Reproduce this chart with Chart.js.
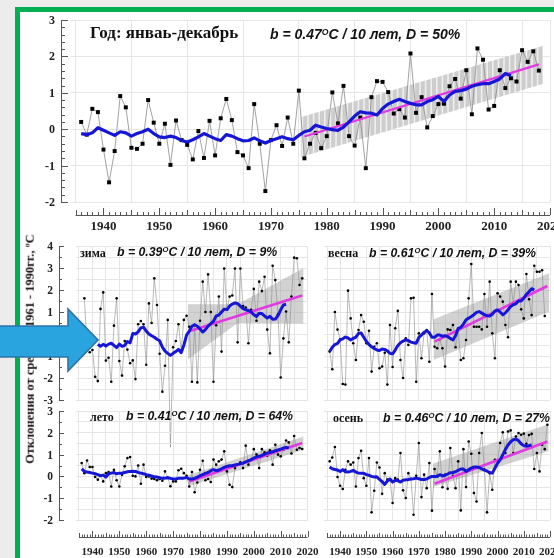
<!DOCTYPE html>
<html><head><meta charset="utf-8">
<script src="https://cdn.jsdelivr.net/npm/chart.js@4.4.0/dist/chart.umd.min.js"></script>
<style>
html,body{margin:0;padding:0;background:#ececec;width:554px;height:558px;overflow:hidden;}
#frame{position:absolute;left:15px;top:7px;width:600px;height:600px;border-left:5px solid #00b050;border-top:5px solid #00b050;background:#fff;}
canvas{position:absolute;left:0;top:0;}
.t{position:absolute;white-space:nowrap;line-height:1;color:#111;}
.serif{font-family:"Liberation Serif","Times New Roman",serif;font-weight:bold;}
.ital{font-family:"Liberation Sans",Arial,sans-serif;font-weight:bold;font-style:italic;}
.ital sup{font-size:0.62em;vertical-align:0.5em;line-height:0;}
#ylab{left:30px;top:349px;transform:translate(-50%,-50%) rotate(-90deg);font-size:12.5px;z-index:5;}
#arrow{position:absolute;left:0;top:300px;z-index:10;}
</style></head><body>
<div id="frame"></div>
<canvas id="cTop" width="554" height="558"></canvas>
<canvas id="cZima" width="554" height="558"></canvas>
<canvas id="cVesna" width="554" height="558"></canvas>
<canvas id="cLeto" width="554" height="558"></canvas>
<canvas id="cOsen" width="554" height="558"></canvas>

<div class="t serif" style="left:90px;top:24px;font-size:17px;">Год: янваь-декабрь</div>
<div class="t ital" style="left:270px;top:27px;font-size:14px;">b = 0.47<sup>O</sup>C / 10 лет, D = 50%</div>

<div class="t serif" style="left:80px;top:247px;font-size:12px;">зима</div>
<div class="t ital" style="left:117px;top:246px;font-size:12.3px;">b = 0.39<sup>O</sup>C / 10 лет, D = 9%</div>

<div class="t serif" style="left:328px;top:247px;font-size:12px;">весна</div>
<div class="t ital" style="left:369px;top:247px;font-size:12.3px;">b = 0.61<sup>O</sup>C / 10 лет, D = 39%</div>

<div class="t serif" style="left:90px;top:411px;font-size:12px;">лето</div>
<div class="t ital" style="left:126px;top:410px;font-size:12.3px;">b = 0.41<sup>O</sup>C / 10 лет, D = 64%</div>

<div class="t serif" style="left:333px;top:412px;font-size:12px;">осень</div>
<div class="t ital" style="left:383px;top:412px;font-size:12.3px;">b = 0.46<sup>O</sup>C / 10 лет, D = 27%</div>

<div id="ylab" class="t serif">Отклонения от средних 1961 - 1990гг., ºС</div>

<svg id="arrow" width="110" height="80">
  <polygon points="-5,26 68,26 68,9 98,40 68,71 68,57 -5,57" fill="#2aa4de" stroke="#2f72a8" stroke-width="1.6"/>
</svg>

<script>
// ---------------- DATA ----------------
const xTickYears = [1940, 1950, 1960, 1970, 1980, 1990, 2000, 2010, 2020];
const annualYTicks = [3, 2, 1, 0, -1, -2];
const winterSpringYTicks = [4, 3, 2, 1, 0, -1, -2, -3];
const summerYTicks = [3, 2, 1, 0, -1, -2];

// Год: январь-декабрь
const annualStart = 1936;
const annualValues = [0.20, -0.15, 0.56, 0.47,
  -0.56, -1.46, -0.60, 0.91, 0.60, -0.51, -0.54, -0.40, 0.80, 0.18,
  -0.40, 0.15, -0.98, 0.24, -0.30, -0.43, -0.83, -0.05, -0.79, 0.23,
  -0.72, 0.30, 0.83, 0.25, -0.63, -0.72, -1.07, 0.69, -0.40, -1.70,
  -0.30, 0.11, -0.46, 0.32, -0.40, 1.06, -0.80, -0.40, -0.10, -0.52,
  -0.19, 1.01, 0.16, 1.19, -0.19, -0.45, 0.32, -1.07, 0.88, 1.32,
  1.30, 1.02, 0.43, 0.55, 0.32, 2.08, 0.45, 0.88, 0.05, 0.36,
  0.69, 0.70, 1.18, 1.38, 0.84, 1.62, 0.41, 2.22, 1.91, 0.54,
  0.64, 1.62, 1.13, 1.40, 1.31, 2.17, 1.85, 2.14, 1.61];
const annualSmoothStart = 1936;
const annualSmooth = [-0.12, -0.15, -0.10, 0.04,
  -0.03, -0.10, -0.17, -0.07, -0.10, -0.19, -0.12, -0.07, 0.00, -0.12,
  -0.21, -0.23, -0.19, -0.23, -0.31, -0.35, -0.29, -0.21, -0.12, -0.19,
  -0.26, -0.31, -0.15, -0.19, -0.26, -0.32, -0.31, -0.24, -0.32, -0.38,
  -0.31, -0.26, -0.21, -0.26, -0.29, -0.17, -0.07, -0.03, 0.11, 0.06,
  0.02, -0.01, -0.03, 0.06, 0.20, 0.36, 0.48, 0.45, 0.44, 0.39,
  0.57, 0.69, 0.76, 0.82, 0.76, 0.71, 0.67, 0.67, 0.76, 0.81,
  0.90, 0.76, 0.94, 1.04, 1.06, 1.10, 1.18, 1.22, 1.25, 1.25,
  1.31, 1.38, 1.53, 1.47];
const annualTrendYears = [1976, 2018];
const annualTrendValues = [-0.20, 1.78];
const annualBandYears = [1975.3, 2018.8];
const annualBandHigh = [0.33, 2.29];
const annualBandLow = [-0.77, 1.25];

// зима
const winterStart = 1937;
const winterValues = [1.62, -0.60, -0.83,
  -0.73, -1.94, -2.14, 1.14, 1.89, -1.21, -1.08, -2.17, 0.38, 1.62,
  -1.23, -1.89, -0.32, -0.71, -1.33, -1.20, -2.05, 0.44, 0.59, 0.44,
  -1.40, 1.39, 0.50, 2.53, 1.32, -0.90, -2.62, -1.44, 0.64, -5.15,
  -0.60, -0.32, 0.44, -0.74, 0.64, 0.83, 0.33, -2.17, 0.41, -2.20,
  0.60, 2.38, 1.00, 2.71, 1.00, -2.17, 0.40, 1.70, -0.80, 2.98,
  1.10, 1.70, 1.75, 2.98, -0.38, 2.98, 1.27, 1.20, -0.42, 1.10,
  2.05, 0.60, 2.38, 1.95, 2.60, 0.20, -0.88, 3.10, 2.45, 0.90,
  -1.98, -0.20, 1.02, -0.38, 1.70, 3.47, 3.44, 2.23, 2.53];
const winterSmoothStart = 1942;
const winterSmooth = [-0.47, -0.56, -0.47, -0.55, -0.46, -0.42, -0.52, -0.62,
  -0.46, -0.56, -0.52, -0.34, -0.40, 0.02, 0.00, 0.10, 0.28, 0.31,
  0.13, 0.00, -0.08, -0.15, -0.24, -0.31, -0.60, -0.78, -0.88, -0.97,
  -0.88, -0.80, -0.70, -0.85, -0.50, -0.05, 0.13, 0.35, 0.42, 0.35,
  0.23, 0.09, 0.20, 0.36, 0.47, 0.58, 0.82, 0.86, 1.00, 1.13,
  1.11, 1.27, 1.36, 1.41, 1.38, 1.27, 1.15, 1.10, 1.07, 1.00,
  0.88, 0.80, 0.94, 0.93, 0.82, 0.73, 0.80, 0.67, 0.68, 0.84,
  1.10, 1.32, 1.35];
const winterTrendYears = [1976, 2018];
const winterTrendValues = [0.12, 1.75];
const winterBandYears = [1975.5, 1994, 2018.5];
const winterBandHigh = [1.35, 1.35, 3.00];
const winterBandLow = [-1.15, 0.50, 0.48];

// весна
const springStart = 1936;
const springValues = [-0.80, -1.60, 1.00, 0.20,
  -0.24, -2.27, -2.30, 1.97, 0.71, -0.42, -1.18, 0.18, 0.86, 0.56,
  -0.42, 0.15, -1.71, -0.58, -0.42, -1.56, -1.48, -0.85, -2.30, 0.41,
  -1.50, 0.26, 1.05, -1.18, -2.00, -0.20, -0.50, 1.62, 1.65, -2.17,
  0.03, -1.10, 0.03, 0.18, -1.26, 1.82, -0.58, -0.65, -0.24, -0.65,
  -1.48, 0.21, 0.18, 0.41, -0.60, 0.18, -1.18, -1.10, -0.27, 1.62,
  3.18, 0.33, 0.33, 0.33, 0.21, 1.82, 0.33, 2.38, 0.03, -1.10,
  1.85, 1.70, 1.47, 0.41, -0.15, 2.38, 1.39, 2.38, 2.23, 1.12,
  0.71, 2.73, 1.58, 0.86, 3.10, 2.83, 2.83, 2.90, 0.82];
const springSmoothStart = 1936;
const springSmooth = [-0.80, -0.60, -0.48, -0.43,
  -0.27, -0.22, -0.14, -0.18, -0.27, -0.20, -0.14, 0.03, 0.05, -0.15,
  -0.34, -0.48, -0.58, -0.66, -0.73, -0.75, -0.68, -0.70, -0.77, -0.88,
  -0.90, -0.73, -0.52, -0.40, -0.32, -0.26, -0.30, -0.37, -0.40, -0.42,
  -0.15, -0.05, 0.08, 0.15, 0.05, -0.15, -0.15, -0.05, -0.05, -0.10,
  -0.08, -0.12, -0.20, -0.27, -0.08, 0.25, 0.30, 0.45, 0.65, 0.72,
  0.80, 0.88, 0.98, 1.02, 0.95, 0.88, 0.83, 0.82, 0.90, 1.05,
  1.09, 1.00, 0.87, 0.96, 1.10, 1.25, 1.33, 1.37, 1.50, 1.50,
  1.63, 1.80, 1.92, 2.06, 2.00];
const springTrendYears = [1976, 2019];
const springTrendValues = [-0.35, 2.18];
const springBandYears = [1975.6, 2019.7];
const springBandHigh = [0.67, 2.76];
const springBandLow = [-1.18, 1.02];

// лето
const summerStart = 1936;
const summerValues = [0.61, 0.15, 0.73, 0.43,
  0.43, -0.03, -0.15, 0.05, -0.23, 0.15, 0.20, -0.46, 0.30, -0.18,
  -0.46, 0.08, 0.46, 0.84, 0.89, 0.03, 0.00, 0.50, -0.34, 0.54,
  -0.03, 0.00, -0.10, -0.12, -0.18, -0.12, -0.20, 0.23, -0.05, -0.45,
  -0.23, -0.23, 0.28, 0.35, 0.15, 0.03, -0.46, 0.20, -0.73, -0.28,
  0.30, 0.72, -0.18, -0.12, -0.26, 0.77, 0.54, 0.69, 0.77, 1.15,
  0.23, -0.38, -0.49, 0.38, 0.54, 0.65, 0.38, 1.41, 0.54, 0.77,
  1.25, 1.00, 0.38, 1.25, 1.10, 0.95, 1.20, 0.54, 1.45, 1.00,
  0.92, 1.22, 1.65, 1.56, 1.05, 1.85, 1.22, 1.30, 1.26];
const summerSmoothStart = 1936;
const summerSmooth = [0.34, 0.23, 0.20, 0.18,
  0.15, 0.12, 0.08, 0.03, 0.06, -0.03, 0.12, 0.15, 0.18, 0.12,
  0.15, 0.15, 0.18, 0.21, 0.23, 0.24, 0.23, 0.18, 0.15, 0.12,
  0.08, 0.05, 0.02, -0.02, -0.03, -0.06, -0.09, -0.08, -0.06, -0.09,
  -0.12, -0.12, -0.09, -0.08, -0.08, -0.05, -0.12, -0.12, -0.09, -0.03,
  0.03, 0.08, 0.14, 0.18, 0.26, 0.31, 0.26, 0.29, 0.35, 0.41,
  0.46, 0.49, 0.49, 0.52, 0.55, 0.58, 0.61, 0.67, 0.72, 0.76,
  0.84, 0.90, 0.92, 0.96, 1.02, 1.07, 1.10, 1.13, 1.18, 1.21,
  1.25, 1.30, 1.33, 1.30];
const summerTrendYears = [1976, 2018];
const summerTrendValues = [-0.23, 1.53];
const summerBandYears = [1975.6, 2018.5];
const summerBandHigh = [0.05, 1.83];
const summerBandLow = [-0.46, 1.22];

// осень
const autumnStart = 1936;
const autumnValues = [0.69, 0.87, 1.35, -0.03,
  -0.43, -0.58, 0.30, 0.69, 0.54, 0.64, -0.46, 0.84, 1.18, -0.08,
  -0.43, 0.84, -1.65, -0.66, 0.64, 0.41, -0.80, 0.15, -0.15, -0.12,
  -1.22, -0.08, -0.15, 1.07, -0.64, -0.99, 0.15, -0.12, -1.76, 0.03,
  1.53, -0.95, 0.08, -0.54, 0.61, -1.57, 0.34, 0.03, 1.15, -0.50,
  0.08, -0.57, 1.30, 0.03, -0.54, 0.69, -1.56, 1.25, -0.49, 1.60,
  1.04, -0.76, -1.15, 1.07, 1.99, 0.31, -1.65, 0.15, -0.61, 0.76,
  0.73, 1.53, 2.02, 1.07, 2.06, 2.11, 1.07, 1.83, 1.99, 1.91,
  1.96, 1.50, 1.90, 1.95, 0.34, 1.07, 0.23, 1.45, 1.25, 2.37];
const autumnSmoothStart = 1936;
const autumnSmooth = [0.43, 0.35, 0.32, 0.29,
  0.23, 0.31, 0.21, 0.20, 0.23, 0.28, 0.20, 0.15, 0.14, 0.14,
  0.08, 0.05, 0.00, -0.03, -0.02, -0.14, -0.24, -0.37, -0.21, -0.12,
  -0.26, -0.18, -0.20, -0.26, -0.18, -0.15, -0.14, -0.12, -0.11, -0.08,
  -0.11, -0.14, -0.14, -0.12, -0.05, 0.00, 0.00, 0.00, 0.08, 0.02,
  0.05, 0.11, 0.17, 0.18, 0.21, 0.28, 0.34, 0.34, 0.23, 0.31,
  0.38, 0.43, 0.43, 0.41, 0.34, 0.29, 0.24, 0.18, 0.15, 0.37,
  0.60, 0.76, 0.99, 1.24, 1.44, 1.59, 1.68, 1.71, 1.64, 1.50,
  1.41, 1.38, 1.41, 1.44];
const autumnTrendYears = [1976, 2019];
const autumnTrendValues = [-0.34, 1.60];
const autumnBandYears = [1975.3, 2019.5];
const autumnBandHigh = [0.58, 2.40];
const autumnBandLow = [-0.49, 1.15];

// ---------------- HELPERS ----------------
const SERIF = '"Liberation Serif","Times New Roman",serif';
const pts = (start, vals) => vals.map((v, i) => ({x: start + i, y: v}));
const xy = (xs, ys) => xs.map((x, i) => ({x: x, y: ys[i]}));

function stripePattern() {
  const c = document.createElement('canvas');
  c.width = 28; c.height = 4;
  const g = c.getContext('2d');
  g.fillStyle = '#efefef'; g.fillRect(0, 0, 28, 4);
  g.fillStyle = '#cdcdcd';
  for (let i = 0; i < 5; i++) g.fillRect(i * 5.6 + 0.8, 0, 4.0, 4);
  return g.createPattern(c, 'repeat');
}

const rulerPlugin = {
  id: 'rulers',
  afterDraw(chart, args, o) {
    const ctx = chart.ctx, xs = chart.scales.x, ys = chart.scales.y;
    ctx.save();
    ctx.strokeStyle = '#555'; ctx.fillStyle = '#222'; ctx.lineWidth = 1;
    if (o.y) {
      const r = o.y;
      const top = ys.getPixelForValue(r.max), bot = ys.getPixelForValue(r.min);
      ctx.beginPath(); ctx.moveTo(r.pos + 0.5, top); ctx.lineTo(r.pos + 0.5, bot); ctx.stroke();
      const n = Math.round((r.max - r.min) / r.minorStep);
      ctx.beginPath();
      for (let i = 0; i <= n; i++) {
        const v = r.min + i * r.minorStep;
        const p = Math.round(ys.getPixelForValue(v)) + 0.5;
        const major = Math.abs(v - Math.round(v)) < 1e-6;
        ctx.moveTo(r.pos, p); ctx.lineTo(r.pos + (major ? r.majLen : r.minLen), p);
      }
      ctx.stroke();
      ctx.font = r.font; ctx.textAlign = 'right'; ctx.textBaseline = 'middle';
      r.labels.forEach(v => ctx.fillText(String(v), r.labelPos, ys.getPixelForValue(v) + 1));
    }
    if (o.x) {
      const r = o.x;
      const a = xs.getPixelForValue(r.from), b = xs.getPixelForValue(r.to);
      ctx.beginPath(); ctx.moveTo(a, r.pos + 0.5); ctx.lineTo(b, r.pos + 0.5); ctx.stroke();
      ctx.beginPath();
      for (let yr = r.from; yr <= r.to; yr++) {
        const p = Math.round(xs.getPixelForValue(yr)) + 0.5;
        const len = yr % 10 === 0 ? r.majLen : (yr % 5 === 0 ? r.midLen : r.minLen);
        ctx.moveTo(p, r.pos); ctx.lineTo(p, r.pos - len);
      }
      ctx.stroke();
      ctx.font = r.font; ctx.textAlign = 'center'; ctx.textBaseline = 'middle';
      r.labels.forEach(v => ctx.fillText(String(v), xs.getPixelForValue(v), r.labelPos));
    }
    ctx.restore();
  }
};

function makeChart(id, cfg) {
  const datasets = [
    {data: xy(cfg.bandYears, cfg.bandHigh), borderWidth: 0, pointRadius: 0, fill: '+1',
     backgroundColor: cfg.bandFill, order: 5},
    {data: xy(cfg.bandYears, cfg.bandLow), borderWidth: 0, pointRadius: 0, fill: false, order: 5},
    {data: pts(cfg.start, cfg.values), borderColor: '#8a8a8a', borderWidth: cfg.thin,
     pointStyle: cfg.pointStyle, pointRadius: cfg.pointRadius, pointBackgroundColor: '#000',
     pointBorderWidth: 0, fill: false, order: 3, clip: false},
    {data: xy(cfg.trendYears, cfg.trendValues), borderColor: '#e23ae2', borderWidth: cfg.trendW,
     pointRadius: 0, fill: false, order: 1},
    {data: pts(cfg.smoothStart, cfg.smooth), borderColor: '#1616d6', borderWidth: cfg.blueW,
     pointRadius: 0, fill: false, order: 0, borderJoinStyle: 'round'}
  ];
  new Chart(document.getElementById(id), {
    type: 'line',
    data: {datasets},
    options: {
      responsive: false, animation: false, devicePixelRatio: 1,
      layout: {padding: cfg.pad},
      plugins: {legend: {display: false}, tooltip: {enabled: false}, rulers: cfg.rulers},
      elements: {line: {tension: 0}},
      scales: {
        x: {type: 'linear', min: cfg.xMin, max: cfg.xMax, border: {display: false},
            ticks: {display: false}, grid: {color: cfg.gridColor, lineWidth: 1, drawTicks: false},
            afterBuildTicks: s => { s.ticks = cfg.gridX.map(v => ({value: v})); }},
        y: {type: 'linear', min: cfg.yMin, max: cfg.yMax, border: {display: false},
            ticks: {display: false}, grid: {color: cfg.gridColor, lineWidth: 1, drawTicks: false},
            afterBuildTicks: s => { s.ticks = cfg.gridY.map(v => ({value: v})); }}
      }
    },
    plugins: [rulerPlugin]
  });
}

const decadeGrid = [1935, 1945, 1955, 1965, 1975, 1985, 1995, 2005, 2015, 2020];
const fiveGrid = [1935,1940,1945,1950,1955,1960,1965,1970,1975,1980,1985,1990,1995,2000,2005,2010,2015,2020];
const halfGridWS = [-3,-2.5,-2,-1.5,-1,-0.5,0,0.5,1,1.5,2,2.5,3,3.5,4];
const halfGridS = [-2,-1.5,-1,-0.5,0,0.5,1,1.5,2,2.5,3];

const smallPanel = {thin: 0.6, pointStyle: 'circle', pointRadius: 1.3, trendW: 2.6, blueW: 3,
  xMin: 1934, xMax: 2020, gridColor: '#e5e5e5', gridX: fiveGrid, bandFill: 'rgba(165,165,165,0.5)'};

makeChart('cTop', {
  start: annualStart, values: annualValues, smoothStart: annualSmoothStart, smooth: annualSmooth,
  trendYears: annualTrendYears, trendValues: annualTrendValues,
  bandYears: annualBandYears, bandHigh: annualBandHigh, bandLow: annualBandLow, bandFill: stripePattern(),
  thin: 0.8, pointStyle: 'rect', pointRadius: 2.8, trendW: 2.2, blueW: 3.2,
  xMin: 1934, xMax: 2020, yMin: -2, yMax: 3, gridColor: '#e6e6e6',
  gridX: decadeGrid, gridY: [-2, -1, 0, 1, 2, 3],
  pad: {left: 70, top: 20, right: 3, bottom: 356},
  rulers: {
    y: {pos: 61, min: -2, max: 3, minorStep: 0.2, majLen: 7, minLen: 4, labels: annualYTicks, labelPos: 55,
        font: 'bold 12px ' + SERIF},
    x: {pos: 215, from: 1935, to: 2020, majLen: 7, midLen: 5, minLen: 3, labels: xTickYears, labelPos: 227,
        font: 'bold 13px ' + SERIF}
  }
});

makeChart('cZima', Object.assign({}, smallPanel, {
  start: winterStart, values: winterValues, smoothStart: winterSmoothStart, smooth: winterSmooth,
  trendYears: winterTrendYears, trendValues: winterTrendValues,
  bandYears: winterBandYears, bandHigh: winterBandHigh, bandLow: winterBandLow,
  yMin: -3, yMax: 4, gridY: halfGridWS,
  pad: {left: 76.3, top: 246, right: 246.4, bottom: 158},
  rulers: {y: {pos: 59, min: -3, max: 4, minorStep: 0.5, majLen: 5, minLen: 3, labels: winterSpringYTicks,
               labelPos: 53, font: 'bold 11.5px ' + SERIF}}
}));

makeChart('cVesna', Object.assign({}, smallPanel, {
  start: springStart, values: springValues, smoothStart: springSmoothStart, smooth: springSmooth,
  trendYears: springTrendYears, trendValues: springTrendValues,
  bandYears: springBandYears, bandHigh: springBandHigh, bandLow: springBandLow,
  yMin: -3, yMax: 4, gridY: halfGridWS,
  pad: {left: 324.4, top: 246, right: 3.4, bottom: 158},
  rulers: {}
}));

makeChart('cLeto', Object.assign({}, smallPanel, {
  start: summerStart, values: summerValues, smoothStart: summerSmoothStart, smooth: summerSmooth,
  trendYears: summerTrendYears, trendValues: summerTrendValues,
  bandYears: summerBandYears, bandHigh: summerBandHigh, bandLow: summerBandLow,
  yMin: -2, yMax: 3, gridY: halfGridS,
  pad: {left: 76.3, top: 411, right: 246.4, bottom: 38},
  rulers: {
    y: {pos: 59, min: -2, max: 3, minorStep: 0.5, majLen: 5, minLen: 3, labels: summerYTicks,
        labelPos: 53, font: 'bold 11.5px ' + SERIF},
    x: {pos: 537, from: 1935, to: 2020, majLen: 6, midLen: 4, minLen: 2.5, labels: xTickYears, labelPos: 552,
        font: 'bold 11px ' + SERIF}
  }
}));

makeChart('cOsen', Object.assign({}, smallPanel, {
  start: autumnStart, values: autumnValues, smoothStart: autumnSmoothStart, smooth: autumnSmooth,
  trendYears: autumnTrendYears, trendValues: autumnTrendValues,
  bandYears: autumnBandYears, bandHigh: autumnBandHigh, bandLow: autumnBandLow,
  yMin: -2, yMax: 3, gridY: halfGridS,
  pad: {left: 324.4, top: 411, right: 3.4, bottom: 38},
  rulers: {
    x: {pos: 537, from: 1935, to: 2020, majLen: 6, midLen: 4, minLen: 2.5, labels: xTickYears, labelPos: 552,
        font: 'bold 11px ' + SERIF}
  }
}));
</script>
</body></html>
